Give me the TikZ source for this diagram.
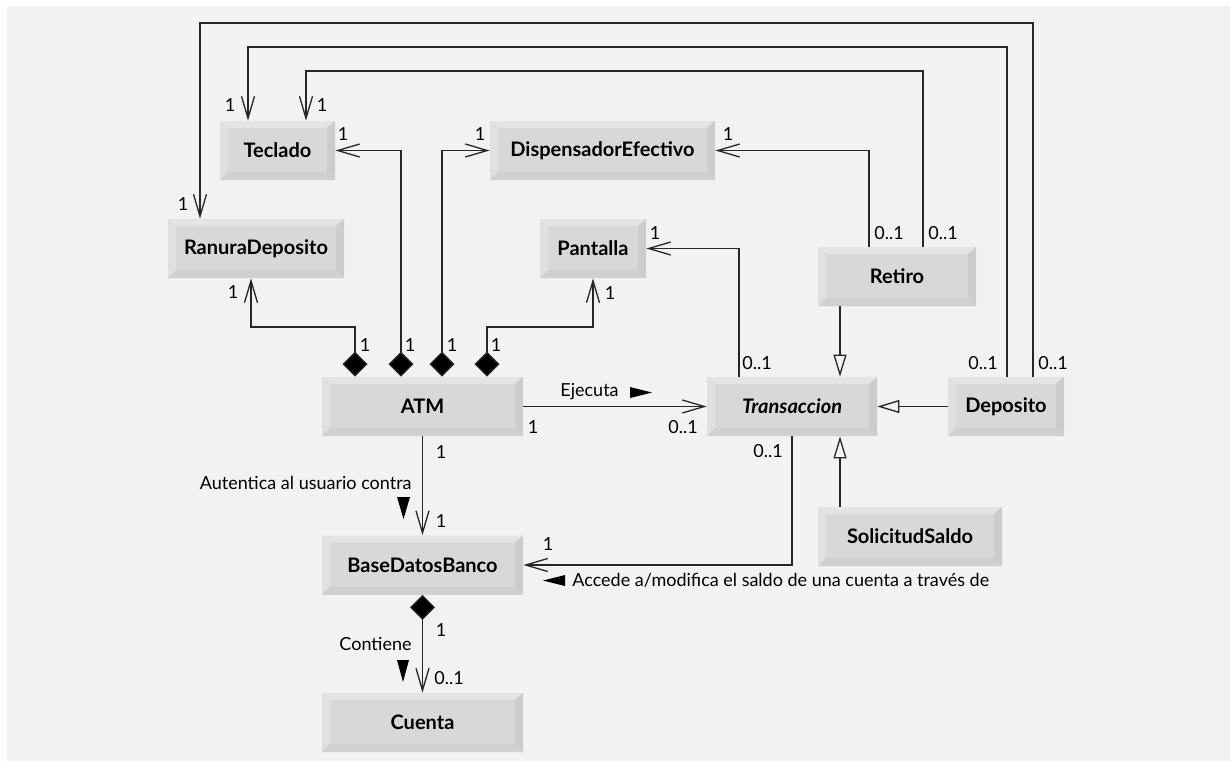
\documentclass[tikz,border=0pt]{standalone}
\usepackage{fontspec}
\setmainfont{Lato}
\usepackage{tikz}
\usetikzlibrary{arrows.meta}

\definecolor{bg}{HTML}{F2F2F2}
\definecolor{boxface}{HTML}{D8D8D8}
\definecolor{bevtop}{HTML}{E4E4E4}
\definecolor{bevleft}{HTML}{E0E0E0}
\definecolor{bevright}{HTML}{CCCCCC}
\definecolor{bevbottom}{HTML}{D0D0D0}

\tikzset{
  umlbox/.style={minimum width=#1*0.5pt, minimum height=29.5pt, inner sep=0pt,
    fill=boxface, font=\bfseries\fontsize{10}{12}\selectfont,
    path picture={
      \path (path picture bounding box.north west) coordinate (bnw)
            (path picture bounding box.north east) coordinate (bne)
            (path picture bounding box.south west) coordinate (bsw)
            (path picture bounding box.south east) coordinate (bse);
      \fill[bevtop] (bnw) -- (bne) -- ([shift={(-4pt,-3.5pt)}]bne) -- ([shift={(4pt,-3.5pt)}]bnw) -- cycle;
      \fill[bevleft] (bnw) -- ([shift={(4pt,-3.5pt)}]bnw) -- ([shift={(4pt,4pt)}]bsw) -- (bsw) -- cycle;
      \fill[bevright] (bne) -- ([shift={(-4pt,-3.5pt)}]bne) -- ([shift={(-4pt,4pt)}]bse) -- (bse) -- cycle;
      \fill[bevbottom] (bsw) -- ([shift={(4pt,4pt)}]bsw) -- ([shift={(-4pt,4pt)}]bse) -- (bse) -- cycle;
    }},
  mult/.style={inner sep=0pt, font=\fontsize{9}{11}\selectfont},
  lbl/.style={inner sep=0pt, font=\fontsize{9}{11}\selectfont},
  conn/.style={line width=0.65pt, draw=black!85},
  nav/.style={conn, -{Straight Barb[length=11pt,width=6.5pt]}},
  gen/.style={conn, -{Triangle[open,length=11pt,width=6.5pt,fill=bg]}},
  comp/.style={conn, {Diamond[length=12.5pt,width=12.5pt,fill=black]}-{Straight Barb[length=11pt,width=6.5pt]}},
}

\begin{document}
\begin{tikzpicture}[x=0.5pt,y=-0.5pt]
    % Frame
    \useasboundingbox (0,0) rectangle (1230,761);
    \fill[bg] (7,6) rectangle (1230,761);

    % Classes
    \node[umlbox=115] (Teclado) at (277.5,150.5) {Teclado};
    \node[umlbox=225] (Disp) at (602.5,150.5) {DispensadorEfectivo};
    \node[umlbox=176] (Ranura) at (256,248.5) {RanuraDeposito};
    \node[umlbox=106] (Pantalla) at (593,248.5) {Pantalla};
    \node[umlbox=158] (Retiro) at (897,276.5) {Retiro};
    \node[umlbox=201] (ATM) at (422.5,406.5) {ATM};
    \node[umlbox=170] (Trans) at (792,406.5) {\itshape Transaccion};
    \node[umlbox=116] (Dep) at (1006,406.5) {Deposito};
    \node[umlbox=184] (Sol) at (910,536.5) {SolicitudSaldo};
    \node[umlbox=201] (BDB) at (422.5,565) {BaseDatosBanco};
    \node[umlbox=201] (Cuenta) at (422.5,722.5) {Cuenta};

    % Compositions of ATM
    \draw[comp] (355,0 |- ATM.north) -- (355,327) -| (251,0 |- Ranura.south);
    \draw[comp] (401,0 |- ATM.north) |- (Teclado.east);
    \draw[comp] (442,0 |- ATM.north) |- (Disp.west);
    \draw[comp] (487,0 |- ATM.north) -- (487,327) -| (Pantalla.south);
    \node[mult] (m1) at (365,345) {1};
    \node[mult] (m2) at (410,345) {1};
    \node[mult] (m3) at (452,345) {1};
    \node[mult] (m4) at (496,345) {1};
    \node[mult] (m5) at (233,292) {1};
    \node[mult] (m6) at (343,134) {1};
    \node[mult] (m7) at (480,134) {1};
    \node[mult] (m8) at (610,293) {1};

    % Associations from the transactions
    \draw[nav] (739,0 |- Trans.north) |- (Pantalla.east);
    \draw[nav] (869,0 |- Retiro.north) |- (Disp.east);
    \draw[nav] (923,0 |- Retiro.north) -- (923,71) -| (306,0 |- Teclado.north);
    \draw[nav] (1007,0 |- Dep.north) -- (1007,47) -| (248,0 |- Teclado.north);
    \draw[nav] (1033,0 |- Dep.north) -- (1033,23) -| (200,0 |- Ranura.north);
    \node[mult] (m9) at (655,233) {1};
    \node[mult] (m10) at (757,363) {0..1};
    \node[mult] (m11) at (728,134) {1};
    \node[mult] (m12) at (889,233) {0..1};
    \node[mult] (m13) at (943,233) {0..1};
    \node[mult] (m14) at (322,105) {1};
    \node[mult] (m15) at (983,363) {0..1};
    \node[mult] (m16) at (230,105) {1};
    \node[mult] (m17) at (1053,363) {0..1};
    \node[mult] (m18) at (183,204) {1};

    % Generalizations
    \draw[gen] (840,0 |- Retiro.south) -- (840,0 |- Trans.north);
    \draw[gen] (Dep.west) -- (Trans.east);
    \draw[gen] (840,0 |- Sol.north) -- (840,0 |- Trans.south);

    % ATM executes transactions
    \draw[nav] (ATM.east) -- (Trans.west);
    \node[lbl, anchor=west] (lEje) at (560,392) {Ejecuta};
    \fill (630,387) -- (652,392.5) -- (630,398) -- cycle;
    \node[mult] (m19) at (533,427) {1};
    \node[mult] (m20) at (683,427) {0..1};

    % ATM and bank database
    \draw[nav] (ATM.south) -- (BDB.north);
    \node[lbl, anchor=east] (lAut) at (412,483) {Autentica al usuario contra};
    \fill (397,497) -- (410,497) -- (403.5,519) -- cycle;
    \node[mult] (m21) at (441,452) {1};
    \node[mult] (m22) at (441,521) {1};

    % Transaction accesses the database
    \draw[nav] (Trans.south) |- (BDB.east);
    \node[lbl, anchor=west] (lAcc) at (572,580) {Accede a/modifica el saldo de una cuenta a través de};
    \fill (565,575) -- (565,586) -- (543,580.5) -- cycle;
    \node[mult] (m23) at (768,451) {0..1};
    \node[mult] (m24) at (548,544) {1};

    % Database contains accounts
    \draw[comp] (BDB.south) -- (Cuenta.north);
    \node[lbl, anchor=east] (lCon) at (412,644) {Contiene};
    \fill (397,660) -- (409,660) -- (403,682) -- cycle;
    \node[mult] (m25) at (441,630) {1};
    \node[mult] (m26) at (449,678) {0..1};
  \end{tikzpicture}
\end{document}
